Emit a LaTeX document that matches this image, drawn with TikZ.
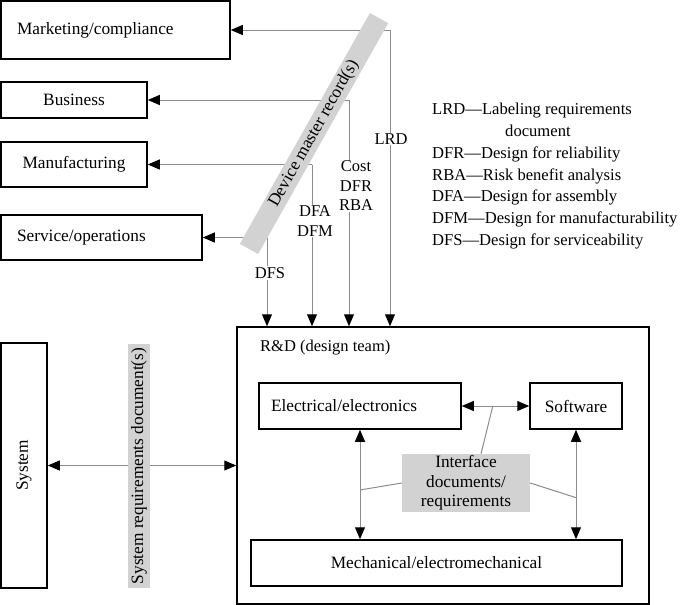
\documentclass[tikz,border=0pt]{standalone}
\usepackage{fontspec}
\setmainfont{Liberation Serif}
\usetikzlibrary{arrows.meta,calc}
\definecolor{linegray}{HTML}{8C8C8C}
\definecolor{bandgray}{HTML}{D2D2D2}
\begin{document}
\begin{tikzpicture}[x=1pt,y=-1pt,
  font=\fontsize{16.5}{19.5}\selectfont,
  big/.style={font=\fontsize{17.3}{19.5}\selectfont},
  box/.style={draw=black, line width=1.5pt, fill=white, inner ysep=0pt, big},
  conn/.style={draw=linegray, line width=1pt},
  blk/.tip={Triangle[length=12pt,width=10pt,color=black]},
  band/.style={fill=bandgray, inner sep=0pt, big},
  lbl/.style={fill=white, inner sep=1pt, align=center}]
\useasboundingbox (0,0) rectangle (686,605);

% left boxes
\node[box, minimum height=58, text width=197pt, inner xsep=16pt, align=left] (mkt) at (115.5,30) {Marketing/compliance};
\node[box, minimum width=146, minimum height=36] (bus) at (74,100) {Business};
\node[box, minimum width=146, minimum height=45] (man) at (74,164.5) {Manufacturing};
\node[box, minimum height=45, text width=169pt, inner xsep=16pt, align=left] (svc) at (101.5,237.5) {Service/operations};

% R&D
\node[box, minimum width=412, minimum height=277] (rd) at (443,465.5) {};
\node[anchor=base west, inner sep=0pt] (rdl) at (260,351) {R\&D (design team)};
\node[box, minimum height=46, text width=178pt, inner xsep=12pt, align=left] (ele) at (360,406) {Electrical/electronics};
\node[box, minimum width=92, minimum height=46] (sw) at (576,406) {Software};
\node[box, minimum width=371, minimum height=46] (mech) at (436.5,563) {Mechanical/electromechanical};

% system
\node[box, rotate=90, minimum width=245, minimum height=46] (sys) at (24,465.5) {System};

% corners
\coordinate (lrdc) at (390,30);
\coordinate (costc) at (349,100);
\coordinate (mfgc) at (312,164.5);
\coordinate (svcc) at (267,237.5);

\draw[conn, -blk] (lrdc) -- (mkt.east);
\draw[conn, -blk] (lrdc) -- (lrdc |- rd.north);
\draw[conn, -blk] (costc) -- (bus.east);
\draw[conn, -blk] (costc) -- (costc |- rd.north);
\draw[conn, -blk] (mfgc) -- (man.east);
\draw[conn, -blk] (mfgc) -- (mfgc |- rd.north);
\draw[conn, -blk] (svcc) -- (svc.east);
\draw[conn, -blk] (svcc) -- (svcc |- rd.north);

\node[lbl] (lrdl) at (391,139) {LRD};
\node[lbl] (costl) at (356,186) {Cost\\DFR\\RBA};
\node[lbl] (dfal) at (315,221) {DFA\\DFM};
\node[lbl] (dfsl) at (270,273) {DFS};

% device master record band
\node[band, rotate=60.6, minimum width=265, minimum height=21] (dmr) at (314,133.5) {Device master record(s)};

% system arrow and band
\draw[conn, blk-blk] (sys.south) -- (rd.west);
\node[band, rotate=90, minimum width=244, minimum height=22] (srd) at (139,466) {System requirements document(s)};

% R&D internal arrows
\draw[conn, blk-blk] (ele.east) -- (sw.west);
\draw[conn, blk-blk] (ele.south) -- (ele.south |- mech.north);
\draw[conn, blk-blk] (sw.south) -- (sw.south |- mech.north);

% interface
\node[band, minimum width=128, minimum height=58, align=center] (iface) at (466,483) {Interface\\documents/\\requirements};
\draw[conn] ($(iface.north)+(15,0)$) -- ($(ele.east)!0.46!(sw.west)$);
\draw[conn] (iface.west) -- ($(ele.south)!0.55!(ele.south |- mech.north)$);
\draw[conn] (iface.east) -- ($(sw.south)!0.62!(sw.south |- mech.north)$);

% legend
\node[anchor=north west, inner sep=0pt, align=left, font=\fontsize{16.6}{21.8}\selectfont] (legend) at (432,103)
{LRD—Labeling requirements\\\hspace*{73pt}document\\DFR—Design for reliability\\RBA—Risk benefit analysis\\DFA—Design for assembly\\DFM—Design for manufacturability\\DFS—Design for serviceability};
\end{tikzpicture}
\end{document}
